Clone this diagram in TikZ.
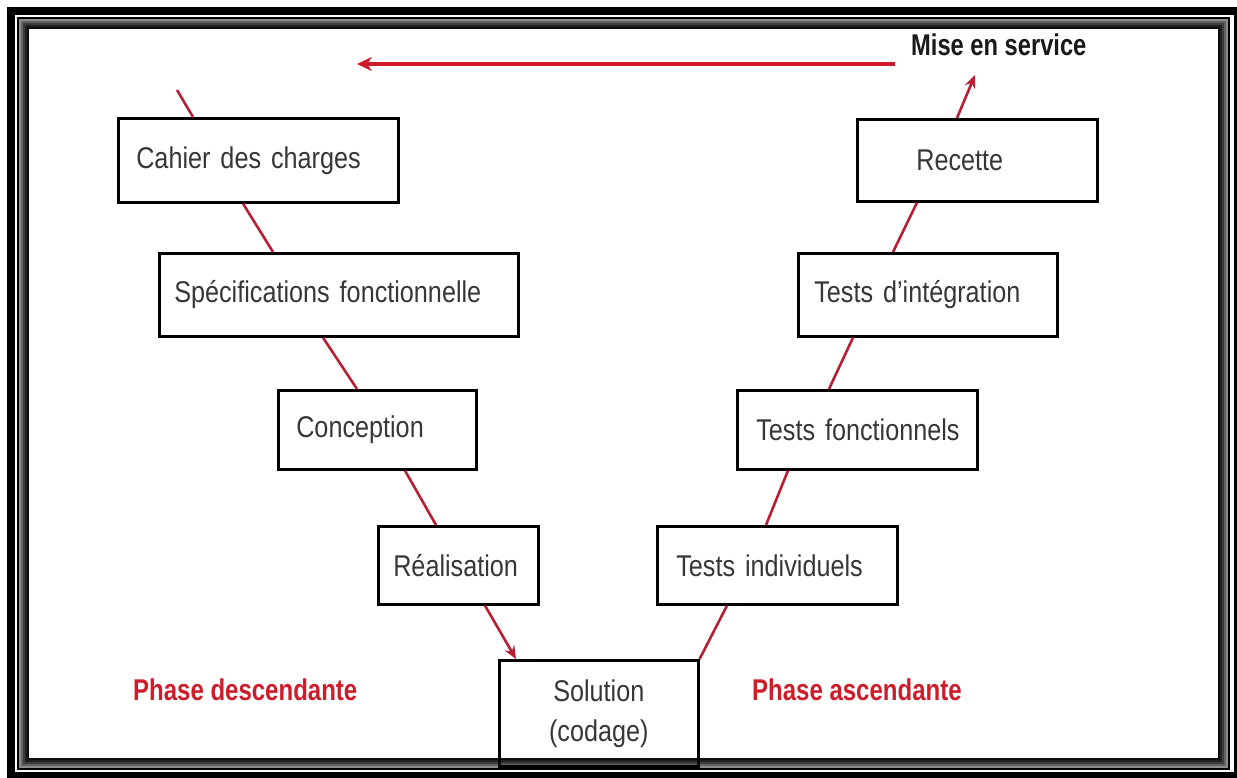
\documentclass[tikz,border=0pt]{standalone}
\usepackage{fontspec}
\usetikzlibrary{arrows.meta}

% narrow sans faces for the labels
\newfontfamily\boxfont[FakeStretch=0.84]{Liberation Sans}
\newfontfamily\headfont[FakeStretch=0.79]{Liberation Sans}
\newfontfamily\phasefont[FakeStretch=0.8]{Liberation Sans}
\newcommand\boxtextfont{\boxfont\fontsize{30}{36}\selectfont\spaceskip 6pt\relax}

\definecolor{vred}{RGB}{205,28,42}
\definecolor{linkred}{RGB}{182,32,52}
\definecolor{txtgray}{RGB}{55,55,55}

\tikzset{
  box/.style={draw=black, line width=2.6pt, anchor=north west, align=left,
    inner ysep=0pt, text=txtgray, font=\boxtextfont},
  link/.style={draw=linkred, line width=2.6pt},
  phase/.style={text=vred, anchor=west, inner sep=0pt,
    font=\phasefont\bfseries\fontsize{30}{36}\selectfont},
}

\begin{document}
\begin{tikzpicture}[x=1pt, y=-1pt]
  \useasboundingbox (0,0) rectangle (1237,778);
  \fill[white] (0,0) rectangle (1237,778);

  % double frame with a soft inner shadow
  \draw[line width=8pt] (11,11) rectangle (1238,776);
  \draw[line width=2pt] (18,18) rectangle (1229,769);
  \foreach \d/\g in {2/45,4/62,6/76,8/87,10/95}
    \draw[line width=2pt, black!\g!white] (18+\d,18+\d) rectangle (1229-\d,769-\d);

  % descending branch
  \node[box, text width=244pt, inner xsep=18pt, minimum height=84pt] (cdc) at (117,117) {\mbox{Cahier des charges}};
  \node[box, text width=329pt, inner xsep=15pt, minimum height=83pt] (spec) at (158,252) {\mbox{Spécifications fonctionnelle}};
  \node[box, text width=162pt, inner xsep=18pt, minimum height=79pt] (conc) at (277,389) {\mbox{Conception}};
  \node[box, text width=130pt, inner xsep=15pt, minimum height=78pt] (real) at (377,525) {\mbox{Réalisation}};

  % bottom of the V
  \node[box, align=center, text width=163pt, inner xsep=18pt, minimum height=106pt,
        font=\boxfont\fontsize{30}{40}\selectfont] (sol) at (498,659) {Solution\\(codage)};

  % ascending branch
  \node[box, text width=202pt, inner xsep=19pt, minimum height=78pt] (tind) at (656,525) {\mbox{Tests individuels}};
  \node[box, text width=202pt, inner xsep=19pt, minimum height=79pt] (tfon) at (736,389) {\mbox{Tests fonctionnels}};
  \node[box, text width=227pt, inner xsep=16pt, minimum height=83pt] (tint) at (797,252) {\mbox{Tests d’intégration}};
  \node[box, text width=122pt, inner xsep=59pt, minimum height=82pt] (rec) at (856,118) {\mbox{Recette}};

  \node[font=\headfont\bfseries\fontsize{30}{36}\selectfont, text=black!90, anchor=base west, inner sep=0pt] (mise) at (911,56) {Mise en service};

  \node[phase] (pdesc) at (133,690) {Phase descendante};
  \node[phase] (pasc) at (752,690) {Phase ascendante};

  % free ends
  \coordinate (entry) at (177,90);
  \coordinate (out) at (975,75);
  \coordinate (backR) at (895,64);
  \coordinate (backL) at (357,64);

  % return arrow along the top
  \draw[draw=vred, line width=4pt, -{Stealth[length=15pt,width=14pt]}] (backR) -- (backL);

  % links of the V
  \draw[link] (entry) -- ([xshift=76pt]cdc.north west);
  \draw[link] ([xshift=126pt]cdc.south west) -- ([xshift=115pt]spec.north west);
  \draw[link] ([xshift=165pt]spec.south west) -- ([xshift=80pt]conc.north west);
  \draw[link] ([xshift=128pt]conc.south west) -- ([xshift=59pt]real.north west);
  \draw[link, -{Stealth[length=13pt,width=11pt]}] ([xshift=108pt]real.south west) -- ([xshift=18pt]sol.north west);
  \draw[link] (sol.north east) -- ([xshift=71pt]tind.south west);
  \draw[link] ([xshift=110pt]tind.north west) -- ([xshift=52pt]tfon.south west);
  \draw[link] ([xshift=93pt]tfon.north west) -- ([xshift=56pt]tint.south west);
  \draw[link] ([xshift=96pt]tint.north west) -- ([xshift=61pt]rec.south west);
  \draw[link, -{Stealth[length=13pt,width=11pt]}] ([xshift=101pt]rec.north west) -- (out);
\end{tikzpicture}
\end{document}
